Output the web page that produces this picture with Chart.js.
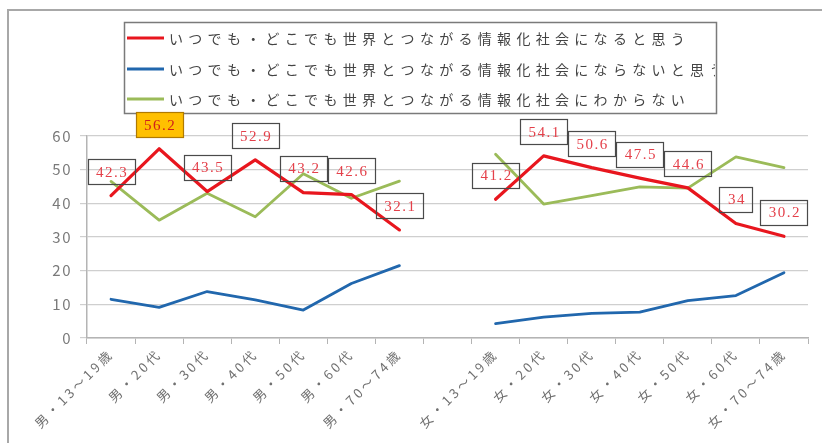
<!DOCTYPE html>
<html><head><meta charset="utf-8">
<script src="https://cdn.jsdelivr.net/npm/chart.js@4.4.0/dist/chart.umd.min.js"></script>
<style>html,body{margin:0;padding:0;background:#fff;}#wrap{position:relative;width:822px;height:443px;}</style>
</head><body><div id="wrap"><canvas id="c"></canvas></div>
<script>
const categories = ['男・13～19歳','男・20代','男・30代','男・40代','男・50代','男・60代','男・70～74歳','',
  '女・13～19歳','女・20代','女・30代','女・40代','女・50代','女・60代','女・70～74歳'];
const seriesNames = [
  'いつでも・どこでも世界とつながる情報化社会になると思う',
  'いつでも・どこでも世界とつながる情報化社会にならないと思う',
  'いつでも・どこでも世界とつながる情報化社会にわからない'
];
const yesValues = [42.3, 56.2, 43.5, 52.9, 43.2, 42.6, 32.1, null, 41.2, 54.1, 50.6, 47.5, 44.6, 34, 30.2];
const noValues = [11.5, 9.1, 13.8, 11.3, 8.3, 16.2, 21.5, null, 4.3, 6.2, 7.3, 7.7, 11.1, 12.6, 19.4];
const unknownValues = [46.5, 35.0, 43.0, 36.0, 48.8, 41.5, 46.6, null, 54.6, 39.8, 42.3, 44.9, 44.5, 53.8, 50.6];
const yMin = 0, yMax = 60, yStep = 10;
const highlightIndex = 1;
const colors = ['#e8161e', '#2167ad', '#9bbb59'];

const FONT = "'Noto Sans CJK JP','Noto Sans',sans-serif";
const labelSpacing = { x: '3px', y: '1.5px' };

function wrapScale(scale, spacing) {
  if (scale._spacingWrapped) return;
  const orig = scale.drawLabels;
  scale.drawLabels = function (area) {
    const ctx = this.ctx;
    ctx.save();
    ctx.letterSpacing = spacing;
    orig.call(this, area);
    ctx.restore();
  };
  scale._spacingWrapped = true;
}

const decorPlugin = {
  id: 'decor',
  beforeDraw(chart) {
    wrapScale(chart.scales.x, labelSpacing.x);
    wrapScale(chart.scales.y, labelSpacing.y);
    const ctx = chart.ctx;
    ctx.save();
    ctx.strokeStyle = '#a8a8a8';
    ctx.lineWidth = 2;
    ctx.beginPath(); ctx.moveTo(8, 443); ctx.lineTo(8, 10); ctx.lineTo(822, 10); ctx.stroke();
    const bx = 124, by = 22, bw = 592, bh = 91;
    ctx.fillStyle = '#fff';
    ctx.fillRect(bx, by, bw, bh);
    ctx.strokeStyle = '#7a7a7a';
    ctx.lineWidth = 1.5;
    ctx.strokeRect(bx + 0.5, by + 0.5, bw, bh);
    ctx.beginPath(); ctx.rect(bx + 1, by + 1, bw - 2, bh - 2); ctx.clip();
    const rows = [38, 69, 99];
    chart.data.datasets.forEach((ds, i) => {
      const y = rows[i];
      ctx.strokeStyle = ds.borderColor;
      ctx.lineWidth = 3;
      ctx.beginPath(); ctx.moveTo(127, y); ctx.lineTo(164, y); ctx.stroke();
      ctx.fillStyle = '#444';
      ctx.font = '14px ' + FONT;
      ctx.letterSpacing = '5.3px';
      ctx.textAlign = 'left';
      ctx.textBaseline = 'middle';
      ctx.fillText(ds.label, 169, y + 1);
    });
    ctx.restore();
  },
  afterDatasetsDraw(chart) {
    const ctx = chart.ctx;
    const meta = chart.getDatasetMeta(0);
    const data = chart.data.datasets[0].data;
    ctx.save();
    meta.data.forEach((pt, i) => {
      const v = data[i];
      if (v == null) return;
      const txt = String(v);
      ctx.font = '15px "Liberation Serif", serif';
      ctx.letterSpacing = '1.5px';
      const w = Math.round(ctx.measureText(txt).width + 15);
      const h = 25;
      const cx = pt.x, cy = pt.y - 24;
      const x0 = Math.round(cx - w / 2) + 0.5, y0 = Math.round(cy - h / 2) + 0.5;
      if (i === highlightIndex) {
        ctx.fillStyle = '#ffc000';
        ctx.fillRect(x0, y0, w, h);
        ctx.strokeStyle = '#b07a00';
      } else {
        ctx.strokeStyle = '#4a4a4a';
      }
      ctx.lineWidth = 1.2;
      ctx.strokeRect(x0, y0, w, h);
      ctx.fillStyle = i === highlightIndex ? '#d0201a' : '#e4404a';
      ctx.textAlign = 'center';
      ctx.textBaseline = 'middle';
      ctx.fillText(txt, cx + 1, cy + 1);
    });
    ctx.restore();
  }
};

new Chart(document.getElementById('c'), {
  type: 'line',
  data: {
    labels: categories,
    datasets: [
      { label: seriesNames[0], data: yesValues, borderColor: colors[0], borderWidth: 3.2 },
      { label: seriesNames[1], data: noValues, borderColor: colors[1], borderWidth: 2.8 },
      { label: seriesNames[2], data: unknownValues, borderColor: colors[2], borderWidth: 2.8 }
    ]
  },
  options: {
    responsive: true,
    maintainAspectRatio: false,
    animation: false,
    spanGaps: false,
    elements: { point: { radius: 0, hoverRadius: 0 }, line: { tension: 0, borderJoinStyle: 'round', borderCapStyle: 'round' } },
    layout: { padding: { top: 136, right: 14, left: 0, bottom: 0 } },
    plugins: { legend: { display: false }, tooltip: { enabled: false } },
    scales: {
      x: {
        offset: true,
        afterFit: s => { s.height = 105; },
        grid: { offset: true, drawOnChartArea: false, drawTicks: true, tickLength: 6, color: '#b4b4b4' },
        border: { color: '#b4b4b4', width: 1.5 },
        ticks: { autoSkip: false, minRotation: 45, maxRotation: 45, padding: 2, color: '#707070', font: { family: FONT, size: 13 } }
      },
      y: {
        min: yMin, max: yMax,
        afterFit: s => { s.width = 87; },
        grid: { color: '#cfcfcf', tickLength: 7, lineWidth: 1.2 },
        border: { color: '#b4b4b4', width: 1.5 },
        ticks: { stepSize: yStep, padding: 8, color: '#7a7a7a', font: { family: FONT, size: 15 } }
      }
    }
  },
  plugins: [decorPlugin]
});
</script></body></html>
